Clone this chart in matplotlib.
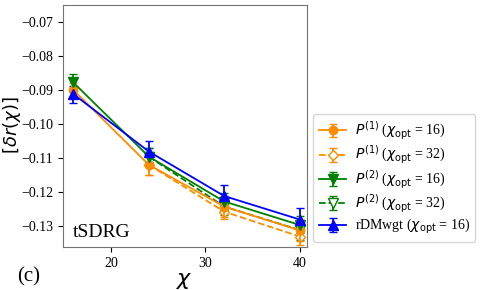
import numpy as np
import matplotlib
matplotlib.use("Agg")
import matplotlib.pyplot as plt

plt.rcParams['font.family'] = ['Liberation Serif', 'DejaVu Serif']
plt.rcParams['mathtext.fontset'] = 'dejavusans'

chi = [16, 24, 32, 40]
chi_32 = [24, 32, 40]

p1_16 = [-0.0900, -0.1120, -0.1243, -0.1313]
p1_16_err = [0.0020, 0.0030, 0.0030, 0.0030]
p1_32 = [-0.1120, -0.1258, -0.1331]
p1_32_err = [0.0030, 0.0020, 0.0025]
p2_16 = [-0.0878, -0.1096, -0.1228, -0.1297]
p2_16_err = [0.0025, 0.0025, 0.0025, 0.0025]
p2_32 = [-0.1096, -0.1243, -0.1312]
p2_32_err = [0.0025, 0.0025, 0.0030]
rdm_16 = [-0.0912, -0.1081, -0.1212, -0.1281]
rdm_16_err = [0.0025, 0.0030, 0.0032, 0.0033]

fig = plt.figure(figsize=(4.84, 2.90), dpi=100)
ax = fig.add_axes([0.130, 0.148, 0.504, 0.835])

ax.errorbar(chi, p1_16, yerr=p1_16_err, color='darkorange', marker='o', ms=6,
            capsize=3, lw=1.3, zorder=3, label=r'$P^{(1)}$ ($\chi_{\rm opt}$ = 16)')
ax.errorbar(chi_32, p1_32, yerr=p1_32_err, color='darkorange', marker='D', ms=5,
            mfc='white', ls='--', capsize=3, lw=1.3, zorder=2,
            label=r'$P^{(1)}$ ($\chi_{\rm opt}$ = 32)')
ax.errorbar(chi, p2_16, yerr=p2_16_err, color='green', marker='v', ms=7,
            capsize=3, lw=1.3, zorder=3, label=r'$P^{(2)}$ ($\chi_{\rm opt}$ = 16)')
ax.errorbar(chi_32, p2_32, yerr=p2_32_err, color='green', marker='v', ms=7,
            mfc='white', ls='--', capsize=3, lw=1.3, zorder=2,
            label=r'$P^{(2)}$ ($\chi_{\rm opt}$ = 32)')
ax.errorbar(chi, rdm_16, yerr=rdm_16_err, color='blue', marker='^', ms=7,
            capsize=3, lw=1.3, zorder=3, label=r'rDMwgt ($\chi_{\rm opt}$ = 16)')

ax.set_xlim(14.9, 40.75)
ax.set_ylim(-0.1362, -0.065)
ax.set_xticks([20, 30, 40])
ax.set_yticks([-0.07, -0.08, -0.09, -0.10, -0.11, -0.12, -0.13])
ax.tick_params(labelsize=10)
for s in ax.spines.values():
    s.set_color('0.45')

ax.set_xlabel(r'$\chi$', fontsize=16, labelpad=1)
fig.text(0.024, 0.567, r'$[\delta r(\chi)]$', fontsize=13, rotation=90,
         ha='center', va='center')
ax.text(0.04, 0.04, 'tSDRG', transform=ax.transAxes, fontsize=14)
fig.text(0.035, 0.03, '(c)', fontsize=15)

ax.legend(loc='center left', bbox_to_anchor=(0.647, 0.386), bbox_transform=fig.transFigure,
          fontsize=10, handlelength=2, labelspacing=0.15, borderpad=0.4,
          handletextpad=0.6, borderaxespad=0)

fig.savefig('out.png', dpi=100)
